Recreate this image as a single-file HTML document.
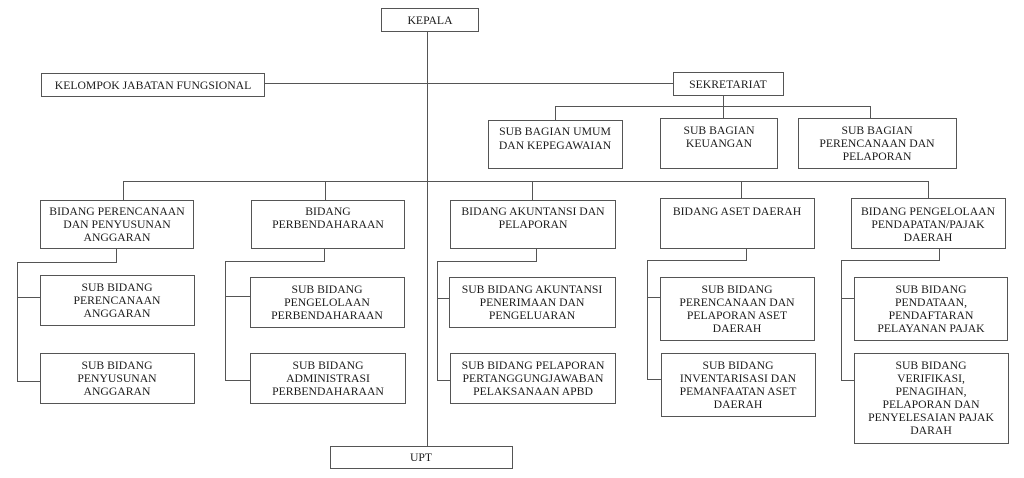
<!DOCTYPE html>
<html><head><meta charset="utf-8"><style>
html,body{margin:0;padding:0;background:#fff;}
svg{display:block}
text{font-family:"Liberation Serif",serif;font-size:11.7px;fill:#1a1a1a;text-anchor:middle}
rect{fill:#fff;stroke:#555;stroke-width:1}
line,polyline{stroke:#555;stroke-width:1;fill:none}
</style></head><body>
<svg width="1024" height="478" viewBox="0 0 1024 478" xmlns="http://www.w3.org/2000/svg">
<line x1="427.5" y1="31" x2="427.5" y2="446"/>
<line x1="264" y1="83.5" x2="673" y2="83.5"/>
<line x1="723.5" y1="95" x2="723.5" y2="118"/>
<polyline points="555.5,120 555.5,106.5 870.5,106.5 870.5,118"/>
<polyline points="123.5,200 123.5,181.5 928.5,181.5 928.5,198"/>
<line x1="325.5" y1="181" x2="325.5" y2="200"/>
<line x1="532.5" y1="181" x2="532.5" y2="200"/>
<line x1="741.5" y1="181" x2="741.5" y2="198"/>
<polyline points="116.5,248 116.5,262.5 17.5,262.5 17.5,381.5 40,381.5"/>
<line x1="17" y1="297.5" x2="40" y2="297.5"/>
<polyline points="324.5,248 324.5,261.5 225.5,261.5 225.5,380.5 250,380.5"/>
<line x1="225" y1="296.5" x2="250" y2="296.5"/>
<polyline points="536.5,248 536.5,261.5 437.5,261.5 437.5,380.5 450,380.5"/>
<line x1="437" y1="298.5" x2="449" y2="298.5"/>
<polyline points="746.5,248 746.5,260.5 647.5,260.5 647.5,379.5 661,379.5"/>
<line x1="647" y1="297.5" x2="660" y2="297.5"/>
<polyline points="939.5,248 939.5,260.5 841.5,260.5 841.5,380.5 854,380.5"/>
<line x1="841" y1="298.5" x2="854" y2="298.5"/>

<rect x="381.5" y="8.5" width="97" height="23"/><text x="430" y="24">KEPALA</text>
<rect x="41.5" y="73.5" width="223" height="23"/><text x="153" y="89">KELOMPOK JABATAN FUNGSIONAL</text>
<rect x="673.5" y="72.5" width="110" height="23"/><text x="728" y="88">SEKRETARIAT</text>

<rect x="488.5" y="120.5" width="134" height="48"/><text x="555" y="135">SUB BAGIAN UMUM</text><text x="555" y="149">DAN KEPEGAWAIAN</text>
<rect x="660.5" y="118.5" width="117" height="50"/><text x="719" y="134">SUB BAGIAN</text><text x="719" y="147">KEUANGAN</text>
<rect x="798.5" y="118.5" width="158" height="50"/><text x="877" y="134">SUB BAGIAN</text><text x="877" y="147">PERENCANAAN DAN</text><text x="877" y="160">PELAPORAN</text>

<rect x="40.5" y="200.5" width="153" height="48"/><text x="117" y="215">BIDANG PERENCANAAN</text><text x="117" y="228">DAN PENYUSUNAN</text><text x="117" y="241">ANGGARAN</text>
<rect x="251.5" y="200.5" width="153" height="48"/><text x="328" y="215">BIDANG</text><text x="328" y="228">PERBENDAHARAAN</text>
<rect x="450.5" y="200.5" width="165" height="48"/><text x="533" y="215">BIDANG AKUNTANSI DAN</text><text x="533" y="228">PELAPORAN</text>
<rect x="660.5" y="198.5" width="154" height="50"/><text x="737" y="215">BIDANG ASET DAERAH</text>
<rect x="851.5" y="198.5" width="154" height="50"/><text x="928" y="215">BIDANG PENGELOLAAN</text><text x="928" y="228">PENDAPATAN/PAJAK</text><text x="928" y="241">DAERAH</text>

<rect x="40.5" y="275.5" width="154" height="50"/><text x="117" y="291">SUB BIDANG</text><text x="117" y="304">PERENCANAAN</text><text x="117" y="317">ANGGARAN</text>
<rect x="40.5" y="353.5" width="154" height="50"/><text x="117" y="369">SUB BIDANG</text><text x="117" y="382">PENYUSUNAN</text><text x="117" y="395">ANGGARAN</text>

<rect x="250.5" y="277.5" width="154" height="50"/><text x="327" y="293">SUB BIDANG</text><text x="327" y="306">PENGELOLAAN</text><text x="327" y="319">PERBENDAHARAAN</text>
<rect x="250.5" y="353.5" width="155" height="50"/><text x="328" y="369">SUB BIDANG</text><text x="328" y="382">ADMINISTRASI</text><text x="328" y="395">PERBENDAHARAAN</text>

<rect x="449.5" y="277.5" width="166" height="50"/><text x="532" y="293">SUB BIDANG AKUNTANSI</text><text x="532" y="306">PENERIMAAN DAN</text><text x="532" y="319">PENGELUARAN</text>
<rect x="450.5" y="353.5" width="165" height="50"/><text x="533" y="369">SUB BIDANG PELAPORAN</text><text x="533" y="382">PERTANGGUNGJAWABAN</text><text x="533" y="395">PELAKSANAAN APBD</text>

<rect x="660.5" y="277.5" width="154" height="63"/><text x="737" y="293">SUB BIDANG</text><text x="737" y="306">PERENCANAAN DAN</text><text x="737" y="319">PELAPORAN ASET</text><text x="737" y="332">DAERAH</text>
<rect x="661.5" y="353.5" width="154" height="63"/><text x="738" y="369">SUB BIDANG</text><text x="738" y="382">INVENTARISASI DAN</text><text x="738" y="395">PEMANFAATAN ASET</text><text x="738" y="408">DAERAH</text>

<rect x="854.5" y="277.5" width="153" height="63"/><text x="931" y="293">SUB BIDANG</text><text x="931" y="306">PENDATAAN,</text><text x="931" y="319">PENDAFTARAN</text><text x="931" y="332">PELAYANAN PAJAK</text>
<rect x="854.5" y="353.5" width="154" height="90"/><text x="931" y="369">SUB BIDANG</text><text x="931" y="382">VERIFIKASI,</text><text x="931" y="395">PENAGIHAN,</text><text x="931" y="408">PELAPORAN DAN</text><text x="931" y="421">PENYELESAIAN PAJAK</text><text x="931" y="434">DARAH</text>

<rect x="330.5" y="446.5" width="182" height="22"/><text x="421" y="461">UPT</text>
</svg>
</body></html>
